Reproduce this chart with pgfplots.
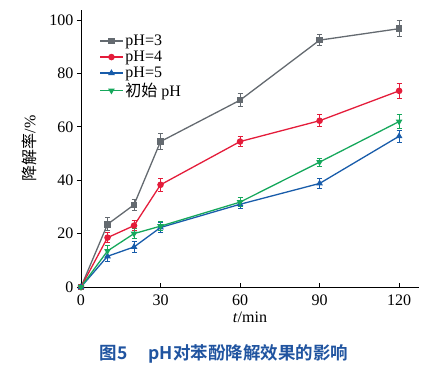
\documentclass[border=0pt]{standalone}
\usepackage{pgfplots}
\pgfplotsset{compat=1.18}
\usepackage{fontspec}
\setmainfont{Liberation Serif}
\newfontfamily\cjk{Noto Sans CJK SC}
\newfontfamily\cjkb{Noto Sans CJK SC Bold}
\definecolor{cgray}{RGB}{100,106,112}
\definecolor{cred}{RGB}{228,28,58}
\definecolor{cblue}{RGB}{24,92,170}
\definecolor{cgreen}{RGB}{22,168,92}
\definecolor{capblue}{RGB}{32,84,160}
\begin{document}
\begin{tikzpicture}
\begin{axis}[
  name=ax,
  scale only axis, width=338pt, height=277pt,
  xmin=0, xmax=127.5, ymin=0, ymax=103.8,
  axis lines=left, axis line style={-, line width=0.8pt},
  xtick={0,30,60,90,120}, ytick={0,20,40,60,80,100},
  tick align=outside, major tick length=4pt,
  xtick style={yshift=4pt, line width=0.8pt, black}, ytick style={line width=0.8pt, black},
  /pgf/number format/assume math mode=true,
  xticklabel={\fontsize{16}{17}\selectfont\pgfmathprintnumber{\tick}},
  yticklabel={\fontsize{16}{17}\selectfont\pgfmathprintnumber{\tick}},
  xlabel={\textit{t}/min}, xlabel style={font=\fontsize{16}{18}\selectfont, yshift=0pt},
  ylabel={\cjk 降解率\rmfamily/\%}, ylabel style={font=\fontsize{16}{18}\selectfont, yshift=6pt},
  legend style={draw=none, fill=none, at={(0.045,0.925)}, anchor=north west, font=\fontsize{16}{16}\selectfont, row sep=0pt},
  legend cell align=left,
  every axis plot/.append style={line width=1.3pt, mark size=2.6pt,
    legend image code/.code={\draw[mark repeat=2,mark phase=2,##1] plot coordinates {(0cm,0cm) (0.4cm,0cm) (0.8cm,0cm)};}},
  error bars/error bar style={line width=1pt},
  error bars/error mark options={rotate=90, mark size=2.5pt, line width=1pt},
]
\addplot[color=cgray, mark=square*, error bars/.cd, y dir=both, y explicit] coordinates {
 (0,0) +- (0,0) (10,23.5) +- (0,2.5) (20,30.8) +- (0,2) (30,54.5) +- (0,3) (60,70) +- (0,2.5) (90,92.5) +- (0,2) (120,96.8) +- (0,3)};
\addlegendentry{pH=3}
\addplot[color=cred, mark=*, error bars/.cd, y dir=both, y explicit] coordinates {
 (0,0) +- (0,0) (10,18.5) +- (0,2) (20,23) +- (0,2) (30,38.3) +- (0,2.5) (60,54.5) +- (0,2) (90,62.3) +- (0,2.3) (120,73.5) +- (0,2.7)};
\addlegendentry{pH=4}
\addplot[color=cblue, mark=triangle*, error bars/.cd, y dir=both, y explicit] coordinates {
 (0,0) +- (0,0) (10,11.5) +- (0,2) (20,15) +- (0,2) (30,22.3) +- (0,1.8) (60,31) +- (0,1.5) (90,38.8) +- (0,1.8) (120,56.5) +- (0,2.2)};
\addlegendentry{pH=5}
\addplot[color=cgreen, mark=triangle*, mark options={rotate=180}, error bars/.cd, y dir=both, y explicit] coordinates {
 (0,0) +- (0,0) (10,13.5) +- (0,2) (20,20) +- (0,2) (30,22.8) +- (0,1.8) (60,31.8) +- (0,1.8) (90,46.8) +- (0,1.5) (120,62) +- (0,2.5)};
\addlegendentry{\cjk 初始\rmfamily\ pH}
\end{axis}
\path ([xshift=-81pt,yshift=-84pt]ax.south west) rectangle ([xshift=29pt,yshift=10pt]ax.north east);
\node[font=\fontsize{17.5}{18}\selectfont, text=capblue, anchor=base] at ([xshift=143pt,yshift=-73pt]ax.south west) {\cjkb 图5\hspace{1.2em}pH对苯酚降解效果的影响};
\end{tikzpicture}
\end{document}
